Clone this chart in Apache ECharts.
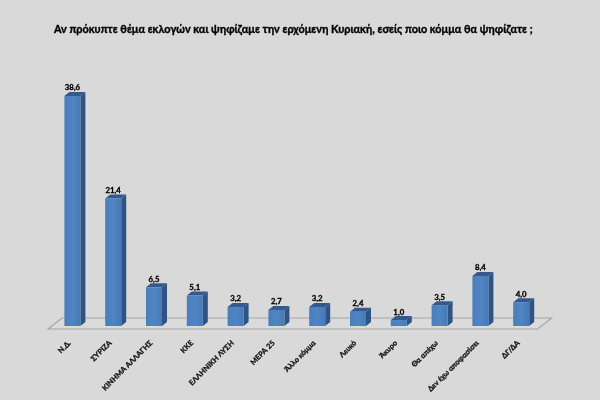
<!DOCTYPE html>
<html><head><meta charset="utf-8">
<style>html,body{margin:0;padding:0;background:#d9d9d9}#c{width:600px;height:400px}</style>
<script src="https://cdn.jsdelivr.net/npm/echarts@6/dist/echarts.min.js"></script>
</head><body><div id="c"></div>
<script>
const titleText = "Αν πρόκυπτε θέμα εκλογών και ψηφίζαμε την ερχόμενη Κυριακή, εσείς ποιο κόμμα θα ψηφίζατε ;";
const categories = ["Ν.Δ.","ΣΥΡΙΖΑ","ΚΙΝΗΜΑ ΑΛΛΑΓΗΣ","ΚΚΕ","ΕΛΛΗΝΙΚΗ ΛΥΣΗ","ΜΕΡΑ 25","Άλλο κόμμα","Λευκό","Άκυρο","Θα απέχω","Δεν έχω αποφασίσει","ΔΓ/ΔΑ"];
const values = [38.6,21.4,6.5,5.1,3.2,2.7,3.2,2.4,1.0,3.5,8.4,4.0];
const FONT = 'Lato,"Open Sans","Noto Sans",sans-serif';
const chart = echarts.init(document.getElementById('c'), null, {renderer:'canvas'});
const DX = 5, DY = 4;
chart.setOption({
  animation:false,
  backgroundColor:'#d9d9d9',
  title:{text:titleText,left:54,top:24,padding:0,textStyle:{fontFamily:FONT,fontSize:10.9,fontWeight:'bold',color:'#000',textBorderColor:'#000',textBorderWidth:0.35}},
  grid:{left:52,right:58.4,top:87.6,bottom:74},
  xAxis:{type:'category',data:categories,axisLine:{show:false},axisTick:{show:false},splitLine:{show:false},
    axisLabel:{interval:0,rotate:45,margin:13,padding:[0,4,3,0],fontFamily:FONT,fontSize:7.4,fontWeight:'bold',color:'#111',textBorderColor:'#111',textBorderWidth:0.3}},
  yAxis:{type:'value',min:0,max:40,show:false,splitLine:{show:false}},
  series:[
    {type:'custom',silent:true,z:1,clip:false,data:[0],encode:{x:-1,y:-1},
     renderItem(params,api){
       const s=params.coordSys;
       const y0=s.y+s.height;
       const front=y0+3,back=y0-8,l=s.x-4,r=s.x+s.width-4,sk=14;
       return {type:'polygon',shape:{points:[[l,front],[l+sk,back],[r+sk,back],[r,front]]},
         style:{fill:'#dbdbdb',stroke:'#a6a6a6',lineWidth:1.2}};
     }},
    {type:'custom',z:2,clip:false,data:values.map((v,i)=>[i,v]),encode:{x:0,y:1},
     renderItem(params,api){
       const i=api.value(0),v=api.value(1);
       const top=api.coord([i,v]),bot=api.coord([i,0]);
       const w=16,xl=top[0]-w/2,xr=xl+w,yt=top[1],yb=bot[1];
       return {type:'group',children:[
         {type:'polygon',shape:{points:[[xr,yt],[xr+DX,yt-DY],[xr+DX,yb-DY],[xr,yb]]},style:{fill:'#2f5484'}},
         {type:'polygon',shape:{points:[[xl,yt],[xl+DX,yt-DY],[xr+DX,yt-DY],[xr,yt]]},style:{fill:'#35598a'}},
         {type:'rect',shape:{x:xl,y:yt,width:w,height:yb-yt},
           style:{fill:new echarts.graphic.LinearGradient(0,0,1,0,[{offset:0,color:'#4a7dbb'},{offset:.5,color:'#5085c3'},{offset:1,color:'#477ab6'}])}},
         {type:'text',style:{x:top[0],y:yt-4,text:v.toFixed(1).replace('.',','),align:'center',verticalAlign:'bottom',
           fontFamily:FONT,fontSize:7.8,fontWeight:'bold',fill:'#000',stroke:'#000',lineWidth:0.3}}
       ]};
     }}
  ]
});
</script></body></html>
